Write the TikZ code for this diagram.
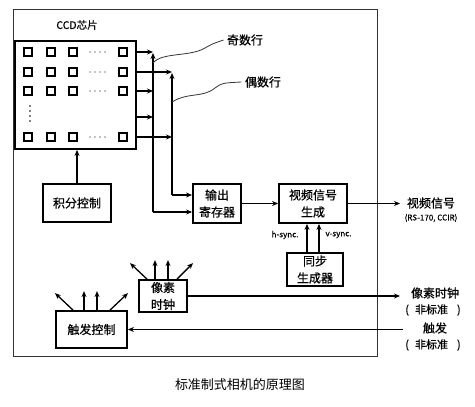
\documentclass[tikz,border=0pt]{standalone}
\usepackage{fontspec}
\setmainfont[FakeBold=0.6]{Noto Sans CJK SC}
\newfontfamily\capfont{Noto Sans CJK SC}
\usepackage{tikz}
\usetikzlibrary{calc}
\usetikzlibrary{arrows.meta}
\tikzstyle{block}=[
    draw,
    line width=1.8pt,
    inner sep=0pt,
    align=center,
    font=\fontsize{12}{17}\selectfont
]
\tikzstyle{pix}=[draw, line width=1.7pt, minimum size=8.5pt, inner sep=0pt]
\tikzstyle{wire}=[line width=1.3pt, -{Stealth[length=6pt,width=5pt]}]
\tikzstyle{lbl}=[font=\fontsize{12}{14}\selectfont]
\tikzstyle{small}=[font=\fontsize{8}{9}\selectfont]

\begin{document}
\begin{tikzpicture}[x=1pt,y=-1pt]
        \useasboundingbox (0,0) rectangle (475,407);

        % frame
        \draw[line width=1pt, black!80] (13,9) rectangle (377,356);

        % ccd chip
        \node[block, minimum width=121pt, minimum height=108pt] (ccd) at (75.5,95) {};
        \node[font=\fontsize{10.5}{12}\selectfont] (ccdlbl) at (77,25) {CCD芯片};
        \foreach \r/\y in {1/52,2/72,3/91,4/137}
        {
            \foreach \c/\x in {1/28,2/51,3/73,4/123}
                \node[pix] (p\r\c) at (\x,\y) {};
            \foreach \x in {90,95,100,105}
                \fill (\x,\y) circle (0.7pt);
        }
        \foreach \y in {106,111,116,121}
            \fill (30,\y) circle (0.8pt);

        % odd / even lines
        \coordinate (oddtop) at (153,53);
        \coordinate (oddbot) at (153,212);
        \coordinate (eventop) at (172,73);
        \coordinate (evenbot) at (172,195);

        \draw[wire] (oddbot) -- (oddtop);
        \draw[wire] (evenbot) -- (eventop);
        \draw[wire] (ccd.east |- p14) -- (oddtop |- p14);
        \draw[wire] (ccd.east |- p24) -- (eventop |- p24);
        \draw[wire] (ccd.east |- p34) -- (oddtop |- p34);
        \draw[wire] (ccd.east |- 0,117) -- (oddtop |- 0,117);
        \draw[wire] (ccd.east |- p44) -- (eventop |- p44);

        \node[lbl] (oddlbl) at (245,40) {奇数行};
        \node[lbl] (evenlbl) at (263,82) {偶数行};
        \coordinate (oddpt) at (153,63);
        \coordinate (evenpt) at (172,102);
        \draw[line width=0.8pt, black!80] (oddpt) .. controls (162,52) and (190,57) .. (205,48) .. controls (212,44) .. (oddlbl.west);
        \draw[line width=0.8pt, black!80] (evenpt) .. controls (188,92) and (203,98) .. (215,88) .. controls (222,83) .. (evenlbl.west);

        % blocks
        \node[block, minimum width=68pt, minimum height=38pt] (integ) at (77,203) {积分控制};
        \node[block, minimum width=48pt, minimum height=39pt] (outreg) at (217,203.5) {输出\\寄存器};
        \node[block, minimum width=68pt, minimum height=39pt] (vidgen) at (313,203.5) {视频信号\\生成};
        \node[block, minimum width=56pt, minimum height=33pt] (syncgen) at (315,269.5) {同步\\生成器};
        \node[block, minimum width=48pt, minimum height=32pt] (pixclk) at (163,296) {像素\\时钟};
        \node[block, minimum width=71pt, minimum height=37pt] (trig) at (91.5,329.5) {触发控制};

        \draw[wire] (integ) -- (integ |- ccd.south);
        \draw[wire] (oddbot) -- (oddbot -| outreg.west);
        \draw[wire] (evenbot) -- (evenbot -| outreg.west);
        \draw[wire] (outreg) -- (vidgen);

        % sync
        \coordinate (hsync) at (307,240);
        \coordinate (vsync) at (319,240);
        \draw[wire] (syncgen.north -| hsync) -- (vidgen.south -| hsync);
        \draw[wire] (syncgen.north -| vsync) -- (vidgen.south -| vsync);
        \node[small, anchor=east] (hlbl) at (302,235) {h-sync.};
        \node[small, anchor=west] (vlbl) at (322,235) {v-sync.};

        % fan out
        \foreach \sx/\ex/\ey in {-16/-17/-16, -8/0/-19, 5/0/-19, 14/16/-16}
            \draw[wire] ([xshift=\sx pt]pixclk.north) -- ++(\ex,\ey);
        \foreach \sx/\ex/\ey in {-18.5/-18/-17, -7.5/0/-19, 5.5/0/-19, 18.5/18/-17}
            \draw[wire] ([xshift=\sx pt]trig.north) -- ++(\ex,\ey);

        % outside
        \coordinate (vidout) at (400,203.5);
        \coordinate (pixout) at (400,296);
        \coordinate (trigin) at (403,329.5);
        \draw[line width=0.9pt, -{Stealth[length=6pt,width=5pt]}] (vidgen) -- (vidout);
        \draw[wire] (pixclk) -- (pixout);
        \draw[wire] (trigin) -- (trig);

        \node[lbl] (vidlbl) at (431,203) {视频信号};
        \node[small] (vidstd) at (431,218) {(RS-170, CCIR)};
        \node[lbl] (pixlbl) at (435,293) {像素时钟};
        \node[font=\fontsize{11}{13}\selectfont] (pixstd) at (433,310) {(\hspace{6pt}非标准\hspace{9pt})};
        \node[lbl] (triglbl) at (435,328) {触发};
        \node[font=\fontsize{11}{13}\selectfont] (trigstd) at (433,345) {(\hspace{6pt}非标准\hspace{9pt})};

        \node[font=\capfont\fontsize{13}{15}\selectfont] (caption) at (240,385) {标准制式相机的原理图};

\end{tikzpicture}
\end{document}
